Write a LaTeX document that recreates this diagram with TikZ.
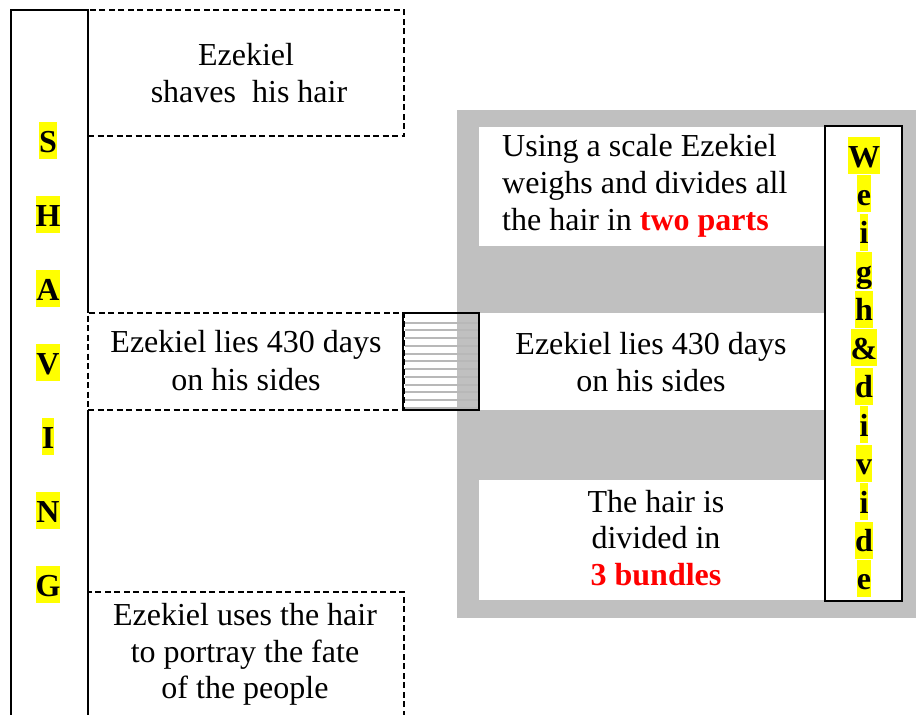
\documentclass[tikz,border=0pt]{standalone}
\usepackage{fontspec}
\setmainfont{Liberation Serif}
\definecolor{hlyellow}{HTML}{FFFF00}
\definecolor{panelgray}{HTML}{C0C0C0}
\definecolor{textred}{HTML}{FF0000}
\definecolor{hatchgray}{HTML}{B8B8B8}
\begin{document}
\begin{tikzpicture}[x=1pt,y=-1pt,
  txt/.style={anchor=base, inner sep=0pt, font=\fontsize{32}{37}\selectfont},
  txtw/.style={anchor=base west, inner sep=0pt, font=\fontsize{32}{37}\selectfont},
  letterhl/.style={anchor=base, inner sep=0pt, fill=hlyellow, text height=30pt, text depth=7pt, font=\fontsize{32}{37}\selectfont\bfseries},
  dashbox/.style={draw, line width=1.6pt, dash pattern=on 6pt off 3.5pt, inner sep=0pt, outer sep=0pt, anchor=north west},
  whitebox/.style={fill=white, inner sep=0pt, outer sep=0pt, anchor=north west},
  hatchline/.style={draw=hatchgray, line width=2pt},
  colline/.style={line width=2.8pt}
]
\useasboundingbox (0,0) rectangle (916,715);
\clip (0,0) rectangle (916,715);
\fill[white] (0,0) rectangle (916,715);

% gray panel and white boxes
\node[fill=panelgray, inner sep=0pt, outer sep=0pt, anchor=north west, minimum width=459pt, minimum height=508pt] (panel) at (457,110) {};
\node[whitebox, minimum width=346pt, minimum height=119pt] (wb1) at (479,127) {};
\node[whitebox, minimum width=346pt, minimum height=97pt] (wb2) at (479,313) {};
\node[whitebox, minimum width=346pt, minimum height=120pt] (wb3) at (479,480) {};
\node[draw, fill=white, line width=2.8pt, inner sep=0pt, outer sep=0pt, anchor=north west, minimum width=77pt, minimum height=475pt] (weighbox) at (825,126) {};

% left dashed boxes
\node[dashbox, minimum width=316pt, minimum height=126pt] (topbox) at (88,10) {};
\node[dashbox, minimum width=316pt, minimum height=97pt] (midbox) at (88,313) {};
\node[dashbox, minimum width=316pt, minimum height=160pt] (botbox) at (88,592) {};

% hatched square
\node[inner sep=0pt, outer sep=0pt, anchor=north west, minimum width=76pt, minimum height=97pt] (hatch) at (403,313) {};
\foreach \k in {0,...,11} {
  \draw[hatchline] ([xshift=1.5pt]hatch.west |- 0,{322.7+7.73*\k}) -- ([xshift=-1.5pt]hatch.east |- 0,{322.7+7.73*\k});
}
\draw[line width=2.2pt] (hatch.north west) rectangle (hatch.south east);

% left column
\coordinate (cTL) at (11,10);
\coordinate (cTR) at (88,10);
\coordinate (cBL) at (11,720);
\coordinate (cBR) at (88,720);
\draw[colline] (cBL) -- (cTL) -- (cTR) -- (midbox.north west);
\draw[colline] (midbox.south west) -- (cBR);

% SHAVING letters
\foreach \l [count=\i from 0] in {S,H,A,V,I,N,G} {
  \node[letterhl] (shv\i) at (48,{152+74*\i}) {\l};
}

% Weigh & divide letters
\foreach \l [count=\i from 0] in {W,e,i,g,h,\&,d,i,v,i,d,e} {
  \node[letterhl] (wd\i) at (864,{167+38.45*\i}) {\l};
}

% left texts
\node[txt] (t1a) at (246,65) {Ezekiel};
\node[txt] (t1b) at (249,102) {shaves\ \ his hair};
\node[txt] (t2a) at (246,352) {Ezekiel lies 430 days};
\node[txt] (t2b) at (246,390) {on his sides};
\node[txt] (t3a) at (245,625) {Ezekiel uses the hair};
\node[txt] (t3b) at (245,662) {to portray the fate};
\node[txt] (t3c) at (245,698) {of the people};

% right texts
\node[txtw] (r1a) at (502,156) {Using a scale Ezekiel};
\node[txtw] (r1b) at (502,193) {weighs and divides all};
\node[txtw] (r1c) at (502,230) {the hair in \textcolor{textred}{\bfseries two parts}};
\node[txt] (r2a) at (651,354) {Ezekiel lies 430 days};
\node[txt] (r2b) at (651,391) {on his sides};
\node[txt] (r3a) at (656,512) {The hair is};
\node[txt] (r3b) at (656,548) {divided in};
\node[txt] (r3c) at (656,585) {\textcolor{textred}{\bfseries 3 bundles}};
\end{tikzpicture}
\end{document}
